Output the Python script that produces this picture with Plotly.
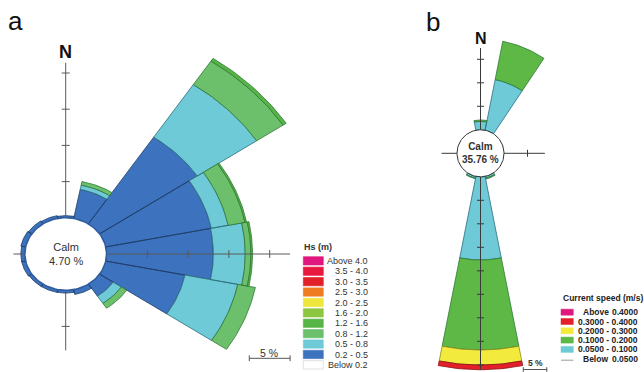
import numpy as np
import plotly.graph_objects as go

W, H = 644, 372

# ---------------- data ----------------
directions = ["N", "NNE", "NE", "ENE", "E", "ESE", "SE", "SSE",
              "S", "SSW", "SW", "WSW", "W", "WNW", "NW", "NNW"]
dir_deg = [i * 22.5 for i in range(16)]

# (a) significant wave height, % of time per direction and class
hs_labels = ["Above 4.0", "3.5 - 4.0", "3.0 - 3.5", "2.5 - 3.0", "2.0 - 2.5",
             "1.6 - 2.0", "1.2 - 1.6", "0.8 - 1.2", "0.5 - 0.8", "0.2 - 0.5", "Below 0.2"]
hs_colors = ["#E0177F", "#E8183F", "#E2202A", "#F07C22", "#EEE63A",
             "#8DC63F", "#57B548", "#6CBF6B", "#6DCAD6", "#3D72BE", "#FFFFFF"]
hs_calm = 4.70
hs_02_05 = [0.3, 4.1, 14.4, 13.2, 13.1, 9.9, 2.0, 0.7, 0.4, 0.4, 0.4, 0.5, 0.5, 0.6, 0.5, 0.4]
hs_05_08 = [0.0, 0.6, 8.75, 2.1, 3.9, 6.6, 1.2, 0.0, 0.0, 0.0, 0.0, 0.0, 0.0, 0.0, 0.0, 0.0]
hs_08_12 = [0.0, 0.5, 3.9, 2.1, 0.7, 2.2, 0.8, 0.0, 0.0, 0.0, 0.0, 0.0, 0.0, 0.0, 0.0, 0.0]
hs_12_16 = [0.0, 0.0, 0.45, 0.2, 0.2, 0.0, 0.0, 0.0, 0.0, 0.0, 0.0, 0.0, 0.0, 0.0, 0.0, 0.0]

# (b) current speed
cur_labels = ["Above", "0.3000 - 0.4000", "0.2000 - 0.3000", "0.1000 - 0.2000",
              "0.0500 - 0.1000", "Below"]
cur_colors = ["#E0177F", "#E3202A", "#F2EA3C", "#5DB846", "#6DCAD6", "#FFFFFF"]
cur_calm = 35.76
cur_005_010 = [1.8, 11.0, 0, 0, 0, 0, 0, 0.4, 17.7, 0.4, 0, 0, 0, 0, 0, 0]
cur_010_020 = [0.3, 8.3, 0, 0, 0, 0, 0, 0.2, 19.15, 0.1, 0, 0, 0, 0, 0, 0]
cur_020_030 = [0, 0, 0, 0, 0, 0, 0, 0, 3.2, 0, 0, 0, 0, 0, 0, 0]
cur_030_040 = [0, 0, 0, 0, 0, 0, 0, 0, 1.0, 0, 0, 0, 0, 0, 0, 0]

ticks_a_pct = [5, 10, 15, 20]
ticks_b_up_pct = [5, 10, 15]
ticks_b_down_pct = [5, 10, 15, 20, 25, 30, 35, 40]
scale_pct = 5

# ---------------- geometry (style) ----------------
CALM_R = 5.0            # calm circle radius in axis units (= 5 %)
A_CX, A_CY, A_SX, A_SY = 65.7, 254.0, 8.16, 7.24
B_CX, B_CY, B_SX, B_SY = 480.5, 153.3, 4.7, 4.7
FONT = "Liberation Sans, Arial, sans-serif"

fig = go.Figure()


def wedge_path(theta_c, r0, r1, width=22.5, n=24):
    t = np.radians(np.linspace(theta_c - width / 2, theta_c + width / 2, n))
    xo, yo = r1 * np.sin(t), r1 * np.cos(t)
    xi, yi = r0 * np.sin(t[::-1]), r0 * np.cos(t[::-1])
    xs = list(xo) + list(xi) + [xo[0]]
    ys = list(yo) + list(yi) + [yo[0]]
    return xs, ys


def add_rose(series, colors, edges, xa, ya):
    cum = np.full(16, CALM_R)
    for vals, col, edge in zip(series, colors, edges):
        vals = np.array(vals, dtype=float)
        xs, ys = [], []
        for k in range(16):
            if vals[k] > 0:
                px, py = wedge_path(dir_deg[k], cum[k], cum[k] + vals[k])
                xs += px + [None]
                ys += py + [None]
        cum = cum + vals
        if xs:
            fig.add_trace(go.Scatter(x=xs, y=ys, mode="lines", fill="toself",
                                     fillcolor=col, line=dict(color=edge, width=0.8),
                                     xaxis=xa, yaxis=ya, hoverinfo="skip",
                                     showlegend=False))


def add_line(xs, ys, xa, ya, color="#555555", width=1.0):
    fig.add_trace(go.Scatter(x=xs, y=ys, mode="lines", line=dict(color=color, width=width),
                             xaxis=xa, yaxis=ya, hoverinfo="skip", showlegend=False))


def add_circle(xa, ya, color, width):
    t = np.linspace(0, 2 * np.pi, 121)
    fig.add_trace(go.Scatter(x=CALM_R * np.sin(t), y=CALM_R * np.cos(t), mode="lines",
                             fill="toself", fillcolor="white",
                             line=dict(color=color, width=width),
                             xaxis=xa, yaxis=ya, hoverinfo="skip", showlegend=False))


# ---- panel a rose ----
add_rose([hs_02_05, hs_05_08, hs_08_12, hs_12_16],
         [hs_colors[9], hs_colors[8], hs_colors[7], hs_colors[6]],
         ["#1E3C66", "#2C6F7B", "#2F7A35", "#2F7A35"], "x", "y")

# axes of panel a
ax_col = "#5a5a5a"
add_line([CALM_R, 27.5], [0, 0], "x", "y", ax_col)
add_line([-6.4, -CALM_R], [0, 0], "x", "y", ax_col)
add_line([0, 0], [CALM_R, 26.4], "x", "y", ax_col)
add_line([0, 0], [-CALM_R, -13.3], "x", "y", ax_col)
hx, hy = 4 / A_SX, 4 / A_SY
xs, ys = [], []
for p in ticks_a_pct:
    r = CALM_R + p
    xs += [r, r, None]; ys += [-hy, hy, None]
    xs += [-hx, hx, None]; ys += [r, r, None]
r = CALM_R + ticks_a_pct[0]
xs += [-hx, hx, None]; ys += [-r, -r, None]
add_line(xs, ys, "x", "y", ax_col)
add_circle("x", "y", "#2F5E9E", 1.5)

# scale bar a
sb_x0 = 22.5
sb_y = (A_CY - 358.3) / A_SY
add_line([sb_x0, sb_x0 + scale_pct], [sb_y, sb_y], "x", "y", "#555555")
add_line([sb_x0, sb_x0, None, sb_x0 + scale_pct, sb_x0 + scale_pct],
         [sb_y - 0.4, sb_y + 0.4, None, sb_y - 0.4, sb_y + 0.4], "x", "y", "#555555")

# ---- panel b rose ----
add_rose([cur_005_010, cur_010_020, cur_020_030, cur_030_040],
         [cur_colors[4], cur_colors[3], cur_colors[2], cur_colors[1]],
         ["#2C6F7B", "#2F7A35", "#8C861A", "#8A1015"], "x2", "y2")
bx_col = "#3a3a3a"
add_line([CALM_R, 13.7], [0, 0], "x2", "y2", bx_col)
add_line([-8.3, -CALM_R], [0, 0], "x2", "y2", bx_col)
add_line([0, 0], [CALM_R, 22.4], "x2", "y2", bx_col)
add_line([0, 0], [-CALM_R, -46.0], "x2", "y2", bx_col)
hb = 3.5 / B_SX
xs, ys = [], []
for p in ticks_b_up_pct:
    r = CALM_R + p
    xs += [-hb, hb, None]; ys += [r, r, None]
for p in ticks_b_down_pct:
    r = CALM_R + p
    xs += [-hb, hb, None]; ys += [-r, -r, None]
r = CALM_R + ticks_b_up_pct[0]
xs += [r, r, None]; ys += [-hb, hb, None]
add_line(xs, ys, "x2", "y2", bx_col)
add_circle("x2", "y2", "#333333", 1.0)

sbb_x0 = 9.1
sbb_y = (B_CY - 369.5) / B_SY
add_line([sbb_x0, sbb_x0 + scale_pct], [sbb_y, sbb_y], "x2", "y2", "#555555")
add_line([sbb_x0, sbb_x0, None, sbb_x0 + scale_pct, sbb_x0 + scale_pct],
         [sbb_y - 0.5, sbb_y + 0.5, None, sbb_y - 0.5, sbb_y + 0.5], "x2", "y2", "#555555")

# ---------------- layout ----------------
def rng(c, s, total):
    return [-c / s, (total - c) / s]


fig.update_layout(
    width=W, height=H, margin=dict(l=0, r=0, t=0, b=0),
    paper_bgcolor="white", plot_bgcolor="rgba(0,0,0,0)",
    showlegend=False,
    xaxis=dict(domain=[0, 1], range=rng(A_CX, A_SX, W), visible=False, fixedrange=True),
    yaxis=dict(domain=[0, 1], range=[-(H - A_CY) / A_SY, A_CY / A_SY], visible=False,
               fixedrange=True),
    xaxis2=dict(domain=[0, 1], range=rng(B_CX, B_SX, W), visible=False, anchor="y2",
                fixedrange=True),
    yaxis2=dict(domain=[0, 1], range=[-(H - B_CY) / B_SY, B_CY / B_SY], visible=False,
                anchor="x2", fixedrange=True),
)

ann = []


def ptxt(px, py, text, size, xanchor="left", bold=False, color="#333333"):
    if bold:
        text = "<b>" + text + "</b>"
    ann.append(dict(x=px / W, y=1 - py / H, xref="paper", yref="paper", text=text,
                    showarrow=False, xanchor=xanchor, yanchor="middle",
                    font=dict(family=FONT, size=size, color=color)))


# panel letters and north labels
ptxt(6, 21, "a", 26, color="#111111")
ptxt(424, 22, "b", 26, color="#111111")
ann.append(dict(x=0, y=(A_CY - 52) / A_SY, xref="x", yref="y", text="<b>N</b>",
                showarrow=False, font=dict(family=FONT, size=18, color="#111111")))
ann.append(dict(x=0, y=(B_CY - 38) / B_SY, xref="x2", yref="y2", text="<b>N</b>",
                showarrow=False, font=dict(family=FONT, size=16, color="#111111")))
# calm labels
ann.append(dict(x=0, y=0, xref="x", yref="y", text=f"Calm<br>{hs_calm:.2f} %",
                showarrow=False, font=dict(family=FONT, size=11, color="#333333")))
ann.append(dict(x=0, y=0, xref="x2", yref="y2", text=f"<b>Calm<br>{cur_calm:.2f} %</b>",
                showarrow=False, font=dict(family=FONT, size=10, color="#333333")))
# scale bar labels
ptxt(269, 353, f"{scale_pct} %", 10.5, xanchor="center")
ptxt(535, 363, f"<b>{scale_pct} %</b>", 8.5, xanchor="center")

# legend a
shapes = []
ptxt(302, 247, "Hs (m)", 9, bold=True)
for i, (lab, col) in enumerate(zip(hs_labels, hs_colors)):
    top = 256.7 + 10.4 * i
    shapes.append(dict(type="rect", xref="paper", yref="paper",
                       x0=303.3 / W, x1=323.3 / W, y0=1 - (top + 8.3) / H, y1=1 - top / H,
                       fillcolor=col, line=dict(color="#cfcfcf" if col == "#FFFFFF" else col,
                                                width=0.6)))
    ptxt(370, top + 4.3, lab, 9, xanchor="right")

# legend b
ptxt(560.5, 297.5, "Current speed (m/s)", 8.5, bold=True, color="#222222")
cur_right = ["0.4000", "", "", "", "", "0.0500"]
for i, (lab, col) in enumerate(zip(cur_labels, cur_colors)):
    cy = 312.2 + 9.3 * i
    if col == "#FFFFFF":
        shapes.append(dict(type="line", xref="paper", yref="paper",
                           x0=561 / W, x1=573.3 / W, y0=1 - (cy + 1.5) / H, y1=1 - (cy + 1.5) / H,
                           line=dict(color="#9a9a9a", width=1)))
    else:
        shapes.append(dict(type="rect", xref="paper", yref="paper",
                           x0=561 / W, x1=573.3 / W, y0=1 - (cy + 3) / H, y1=1 - (cy - 3) / H,
                           fillcolor=col, line=dict(color=col, width=0.5)))
    if cur_right[i]:
        ptxt(580.7, cy, lab, 8.5, bold=True, color="#222222")
        ptxt(640, cy, cur_right[i], 8.5, xanchor="right", bold=True, color="#222222")
    else:
        ptxt(640, cy, lab, 8.5, xanchor="right", bold=True, color="#222222")

fig.update_layout(annotations=ann, shapes=shapes)
fig.write_html("out.html", config={"displayModeBar": False},
               post_script="document.body.style.margin='0px';document.body.style.overflow='hidden';")
